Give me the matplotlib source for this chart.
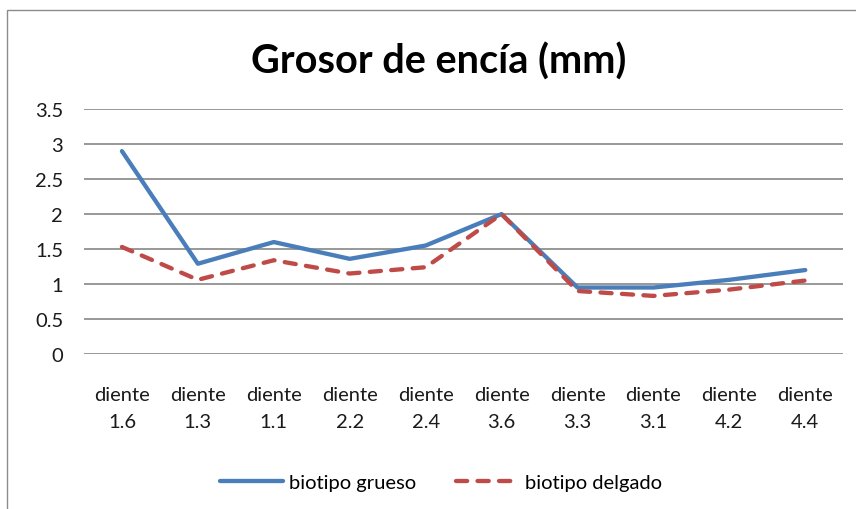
import matplotlib
matplotlib.use('Agg')
import matplotlib.pyplot as plt
from matplotlib.patches import Rectangle

# data
dientes = ['1.6', '1.3', '1.1', '2.2', '2.4', '3.6', '3.3', '3.1', '4.2', '4.4']
grueso = [2.90, 1.29, 1.60, 1.36, 1.55, 2.00, 0.95, 0.95, 1.06, 1.20]
delgado = [1.53, 1.06, 1.34, 1.15, 1.24, 2.00, 0.90, 0.83, 0.92, 1.05]
y_ticks = [0, 0.5, 1, 1.5, 2, 2.5, 3, 3.5]
y_labels = ['0', '0.5', '1', '1.5', '2', '2.5', '3', '3.5']

plt.rcParams['font.family'] = ['Lato', 'DejaVu Sans']

fig = plt.figure(figsize=(8.56, 5.10), dpi=100)
ax = fig.add_axes([0.0981, 0.304, 0.887, 0.480])

x = list(range(len(dientes)))
ax.plot(x, grueso, color='#4A7EBB', lw=3.1, solid_capstyle='round',
        label='biotipo grueso', zorder=3)
ax.plot(x, delgado, color='#BE4B48', lw=3.1, ls=(0, (2.6, 2.4)),
        dash_capstyle='round', label='biotipo delgado', zorder=3)

ax.set_xlim(-0.5, len(dientes) - 0.5)
ax.set_ylim(0, 3.5)
ax.set_yticks(y_ticks)
ax.set_yticklabels(y_labels, fontsize=14.5, color='#1a1a1a')
ax.set_xticks(x)
ax.set_xticklabels(['diente\n' + d for d in dientes], fontsize=14.5,
                   color='#1a1a1a', linespacing=1.75)
ax.tick_params(axis='y', length=0, pad=15)
ax.tick_params(axis='x', length=0, pad=23)
ax.grid(axis='y', color='#868686', lw=1.2)
ax.set_axisbelow(True)
for s in ax.spines.values():
    s.set_visible(False)

fig.text(0.512, 0.880, 'Grosor de encía (mm)', ha='center', va='center',
         fontsize=28.5, fontweight='bold', color='black')

fig.legend(loc='center', bbox_to_anchor=(0.515, 0.052), ncol=2, frameon=False,
           fontsize=14.5, handlelength=3.1, columnspacing=2.0, handletextpad=0.3)

# outer chart frame (left and top edges visible)
fig.patches.append(Rectangle((7.5 / 856, -0.1), 1.2, 1.1 - 11 / 510,
                             transform=fig.transFigure, fill=False,
                             edgecolor='#8c8c8c', lw=1.0))

fig.savefig('out.png', dpi=100)
